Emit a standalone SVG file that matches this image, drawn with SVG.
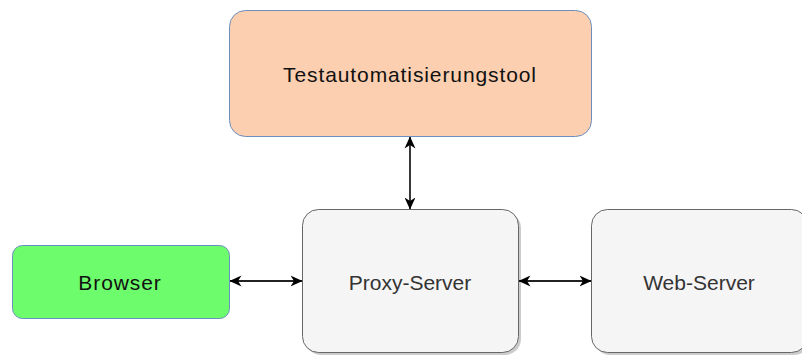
<svg xmlns="http://www.w3.org/2000/svg" width="802" height="360" viewBox="0 0 802 360">
<defs>
<style>
text{font-family:"Liberation Sans",Arial,sans-serif;font-size:21px;text-anchor:middle;dominant-baseline:central}
.dark{fill:#111;letter-spacing:0.9px}
.grey{fill:#333}
.conn{stroke:#222;stroke-width:1.8;fill:none;marker-start:url(#ah);marker-end:url(#ah)}
.srv{fill:#f5f5f5;stroke:#666;stroke-width:1}
.shadow{fill:#000;opacity:0.2}
</style>
<marker id="ah" viewBox="0 0 12 12" refX="11.5" refY="6" markerWidth="12" markerHeight="12" orient="auto-start-reverse" markerUnits="userSpaceOnUse">
<path d="M0,0.5 L12,6 L0,11.5 L3.5,6 Z" fill="#000"/>
</marker>
</defs>
<rect width="802" height="360" fill="#fff"/>
<g id="testtool">
<rect x="229.5" y="10.5" width="362" height="126" rx="16" fill="#fbcfb0" stroke="#6c8ebf"/>
<text x="410" y="74" class="dark">Testautomatisierungstool</text>
</g>
<g id="browser">
<rect x="12.5" y="245.5" width="217" height="73" rx="10" fill="#6cfc6c" stroke="#6c8ebf"/>
<text x="120" y="282" class="dark">Browser</text>
</g>
<g id="proxy">
<rect x="305" y="212" width="216" height="143" rx="16" class="shadow"/>
<rect x="302.5" y="209.5" width="216" height="143" rx="16" class="srv"/>
<text x="410" y="282" class="grey">Proxy-Server</text>
</g>
<g id="webserver">
<rect x="594" y="212" width="216" height="143" rx="16" class="shadow"/>
<rect x="591.5" y="209.5" width="216" height="143" rx="16" class="srv"/>
<text x="699" y="282" class="grey">Web-Server</text>
</g>
<g id="connectors">
<line x1="410" y1="137" x2="410" y2="209" class="conn"/>
<line x1="230" y1="281" x2="302" y2="281" class="conn"/>
<line x1="519" y1="281" x2="591" y2="281" class="conn"/>
</g>
</svg>
